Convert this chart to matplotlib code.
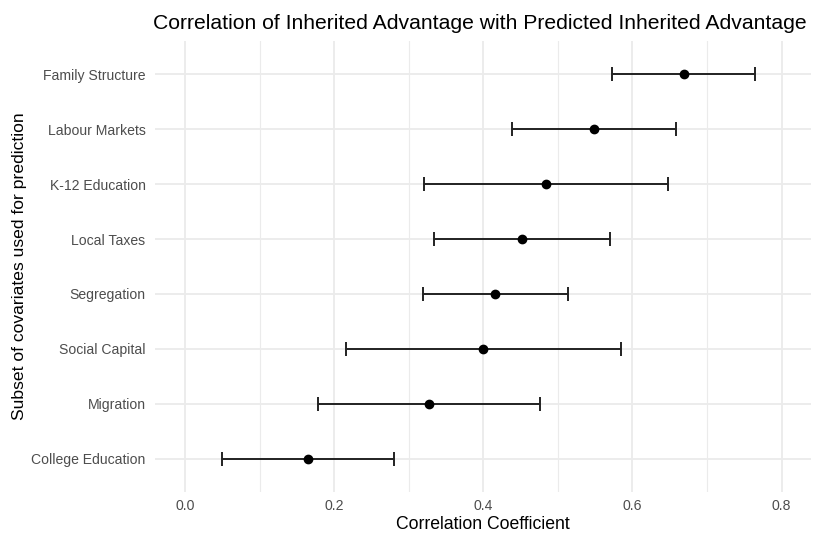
import numpy as np
import matplotlib
matplotlib.use("Agg")
import matplotlib.pyplot as plt

plt.rcParams['font.family'] = ['Liberation Sans', 'DejaVu Sans']

covariates = ["College Education", "Migration", "Social Capital", "Segregation",
              "Local Taxes", "K-12 Education", "Labour Markets", "Family Structure"]
estimate = [0.165, 0.327, 0.400, 0.416, 0.452, 0.484, 0.548, 0.669]
lower = [0.049, 0.178, 0.216, 0.319, 0.334, 0.320, 0.439, 0.573]
upper = [0.280, 0.476, 0.584, 0.514, 0.570, 0.648, 0.659, 0.765]

est = np.array(estimate)
err = np.vstack([est - np.array(lower), np.array(upper) - est])
ypos = np.arange(len(covariates))

fig = plt.figure(figsize=(8.13, 5.33), dpi=100)
ax = fig.add_axes([0.191, 0.077, 0.807, 0.846])

ax.errorbar(est, ypos, xerr=err, fmt='o', color='black', ecolor='#222222',
            elinewidth=1.4, capsize=5, capthick=1.4, markersize=6, zorder=3)

ax.set_xlim(-0.04, 0.84)
ax.set_ylim(-0.6, len(covariates) - 0.4)
ax.set_xticks([0.0, 0.2, 0.4, 0.6, 0.8])
ax.set_xticklabels(["0.0", "0.2", "0.4", "0.6", "0.8"])
ax.set_xticks([0.1, 0.3, 0.5, 0.7], minor=True)
ax.set_yticks(ypos)
ax.set_yticklabels(covariates)

ax.grid(which='major', color='#ebebeb', linewidth=1.3)
ax.grid(which='minor', axis='x', color='#ebebeb', linewidth=0.8)
ax.set_axisbelow(True)
for s in ax.spines.values():
    s.set_visible(False)
ax.tick_params(which='both', length=0, labelsize=10.1, labelcolor='#4d4d4d', pad=5)
ax.tick_params(axis='y', pad=7)

ax.set_xlabel("Correlation Coefficient", fontsize=12.7, labelpad=2)
ax.set_ylabel("Subset of covariates used for prediction", fontsize=12.6, labelpad=3)
ax.set_title("Correlation of Inherited Advantage with Predicted Inherited Advantage",
             fontsize=15.2, loc='left', x=-0.003, pad=9)

fig.savefig("out.png", dpi=100)
